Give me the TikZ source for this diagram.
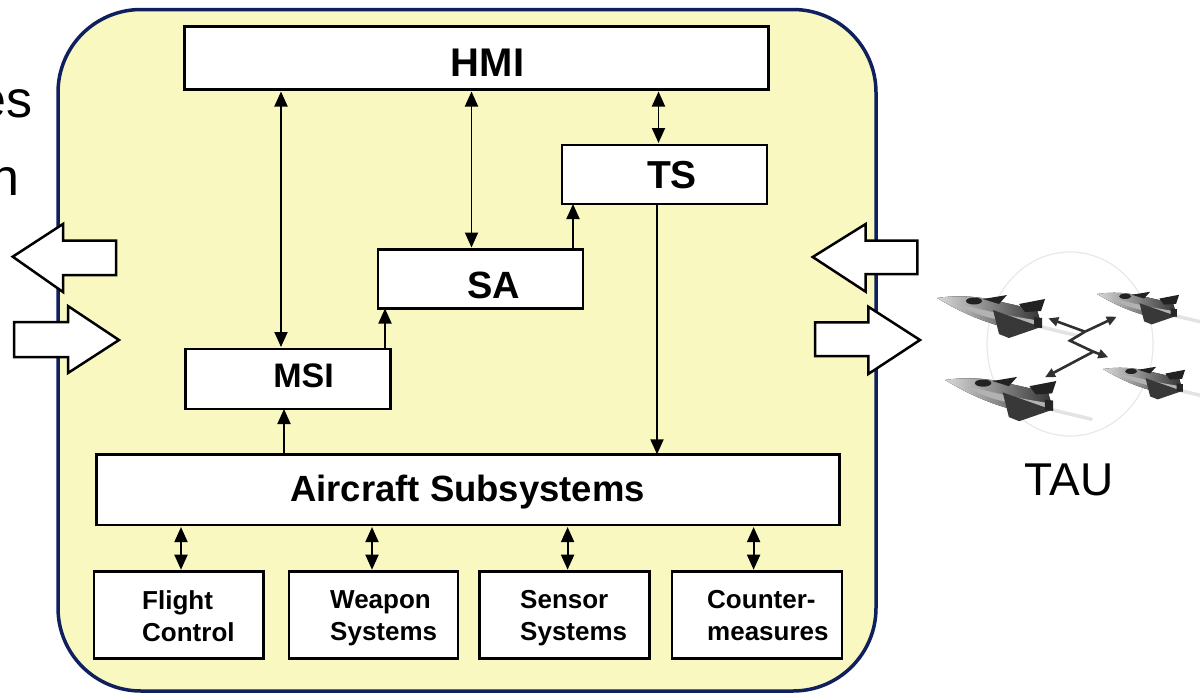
\documentclass[tikz,border=0pt]{standalone}
\usepackage{fontspec}
\setmainfont{Liberation Sans}
\usetikzlibrary{arrows.meta}
\definecolor{panelfill}{HTML}{F8F8C0}
\definecolor{panelline}{HTML}{10205E}
\definecolor{jetdark}{HTML}{222222}
\definecolor{zigcol}{HTML}{303030}
\tikzset{
  box/.style={draw=black, line width=2.5pt, fill=white, inner sep=0pt, outer sep=0pt},
  lbl/.style={inner sep=0pt, anchor=base},
  sublbl/.style={inner sep=0pt, anchor=north west, align=left, font=\fontsize{26}{32}\selectfont\bfseries},
  link/.style={line width=1.9pt, -{Triangle[length=15pt,width=13pt]}},
  dlink/.style={line width=1.9pt, {Triangle[length=15pt,width=13pt]}-{Triangle[length=15pt,width=13pt]}, shorten <=2pt, shorten >=2pt},
  blockarrow/.style={draw=black, fill=white, line width=2.5pt, line join=miter},
  zig/.style={draw=zigcol, line width=2.6pt},
  zighead/.style={-{Triangle[length=10pt,width=9pt]}},
  fighterjet/.pic={
    \draw[gray!22, line width=3.5pt, line cap=round] (100,28) -- (142,38);
    \fill[left color=gray!30, right color=black!80] (0,0) .. controls (20,-3) and (40,-2) .. (60,3) -- (100,12) -- (105,29) -- (70,30) .. controls (40,22) and (20,12) .. (0,0) -- cycle;
    \fill[gray!60] (20,6) .. controls (40,10) and (60,16) .. (98,22) -- (100,27) .. controls (60,24) and (35,16) .. (20,6) -- cycle;
    \fill[jetdark!90] (56,12) -- (104,29) -- (72,40) -- (62,36) -- cycle;
    \fill[jetdark] (46,1) -- (70,-3) -- (62,6) -- cycle;
    \fill[jetdark] (37,3) ellipse [x radius=8, y radius=3.5];
    \fill[jetdark] (82,6) -- (108,1) -- (104,13) -- (88,14) -- cycle;
    \fill[black!85] (97,19) -- (105,20) -- (105,30) -- (97,29) -- cycle;
  }
}
\begin{document}
\begin{tikzpicture}[x=1pt,y=-1pt]
\useasboundingbox (0,0) rectangle (1200,694);

% panel
\draw[draw=panelline, fill=panelfill, line width=3.5pt, rounded corners=83pt] (58,9.5) rectangle (876,691);

% left cut-off text
\node[inner sep=0pt, anchor=base east, font=\fontsize{52}{60}\selectfont] (tes) at (33,117) {es};
\node[inner sep=0pt, anchor=base east, font=\fontsize{52}{60}\selectfont] (tn) at (20,195) {n};

% boxes
\node[box, minimum width=584pt, minimum height=63pt] (hmi) at (476.5,58) {};
\node[box, minimum width=205pt, minimum height=59pt] (ts) at (664.5,174.5) {};
\node[box, minimum width=205pt, minimum height=59pt] (sa) at (480.5,279) {};
\node[box, minimum width=205pt, minimum height=60pt] (msi) at (288,379) {};
\node[box, minimum width=743pt, minimum height=70.7pt] (as) at (468,489.7) {};
\node[box, minimum width=169.6pt, minimum height=86.6pt] (fc) at (178.8,615) {};
\node[box, minimum width=169pt, minimum height=86.6pt] (ws) at (373.5,615) {};
\node[box, minimum width=170pt, minimum height=86.6pt] (ss) at (564.5,615) {};
\node[box, minimum width=170pt, minimum height=86.6pt] (cm) at (757,615) {};

% labels
\node[lbl, font=\fontsize{40}{48}\selectfont\bfseries] (thmi) at (487.6,76) {HMI};
\node[lbl, font=\fontsize{39}{47}\selectfont\bfseries] (tts) at (672,188.3) {TS};
\node[lbl, font=\fontsize{38}{46}\selectfont\bfseries] (tsa) at (493.6,298.3) {SA};
\node[lbl, font=\fontsize{34}{41}\selectfont\bfseries] (tmsi) at (303.5,387.3) {MSI};
\node[lbl, font=\fontsize{36.5}{44}\selectfont\bfseries] (tas) at (467.6,501.7) {Aircraft Subsystems};
\node[sublbl] (tfc) at (142,590.4) {Flight\\Control};
\node[sublbl] (tws) at (330,590.4) {Weapon\\Systems};
\node[sublbl] (tss) at (520,590.4) {Sensor\\Systems};
\node[sublbl] (tcm) at (707,590.4) {Counter-\\measures};

% connector columns
\coordinate (k1) at (281,0);
\coordinate (k2) at (471.5,0);
\coordinate (k3) at (658.5,0);
\coordinate (k4) at (573,0);
\coordinate (k5) at (385,0);
\coordinate (k6) at (284,0);
\coordinate (k7) at (657,0);
\coordinate (b1) at (181,0);
\coordinate (b2) at (372,0);
\coordinate (b3) at (567.6,0);
\coordinate (b4) at (753.6,0);

\draw[dlink] (hmi.south -| k1) -- (msi.north -| k1);
\draw[dlink] (hmi.south -| k2) -- (sa.north -| k2);
\draw[dlink] (hmi.south -| k3) -- (ts.north -| k3);
\draw[link] (sa.north -| k4) -- (ts.south -| k4);
\draw[link] (msi.north -| k5) -- (sa.south -| k5);
\draw[link] (as.north -| k6) -- (msi.south -| k6);
\draw[link] (ts.south -| k7) -- (as.north -| k7);
\draw[dlink] (as.south -| b1) -- (fc.north -| b1);
\draw[dlink] (as.south -| b2) -- (ws.north -| b2);
\draw[dlink] (as.south -| b3) -- (ss.north -| b3);
\draw[dlink] (as.south -| b4) -- (cm.north -| b4);

% block arrows
\draw[blockarrow] (12.7,256.7) -- (63,224) -- (63,240.7) -- (116,240.7) -- (116,275) -- (63,275) -- (63,292) -- cycle;
\draw[blockarrow] (14,322) -- (68,322) -- (68,306) -- (119,340) -- (68,373) -- (68,357) -- (14,357) -- cycle;
\draw[blockarrow] (812.7,257) -- (865.7,224) -- (865.7,240.7) -- (917.3,240.7) -- (917.3,274) -- (865.7,274) -- (865.7,291.7) -- cycle;
\draw[blockarrow] (815,322.3) -- (868.3,322.3) -- (868.3,306.7) -- (920,340) -- (868.3,374) -- (868.3,356) -- (815,356) -- cycle;

% TAU formation
\draw[gray!18, line width=1.2pt] (1070,344) ellipse [x radius=83, y radius=92];
\pic[shift={(937,298)}] {fighterjet};
\pic[shift={(1097,294)}, scale=0.76] {fighterjet};
\pic[shift={(945,380)}, scale=1.03] {fighterjet};
\pic[shift={(1103,369)}, scale=0.76] {fighterjet};

\coordinate (zp1) at (1048.3,318.3);
\coordinate (zv) at (1085,331.7);
\coordinate (zp2) at (1116.7,316.7);
\coordinate (zz1) at (1070,340.7);
\coordinate (zz2) at (1093.3,351.7);
\coordinate (zp3) at (1108.3,357.3);
\coordinate (zp4) at (1045,377.3);
\draw[zig, zighead] (zv) -- (zp1);
\draw[zig, zighead] (zv) -- (zp2);
\draw[zig, zighead, line join=miter] (zv) -- (zz1) -- (zz2) -- (zp4);
\draw[zig, zighead] (zz2) -- (zp3);

\node[lbl, font=\fontsize{46}{55}\selectfont] (tau) at (1069,495) {TAU};
\end{tikzpicture}
\end{document}
